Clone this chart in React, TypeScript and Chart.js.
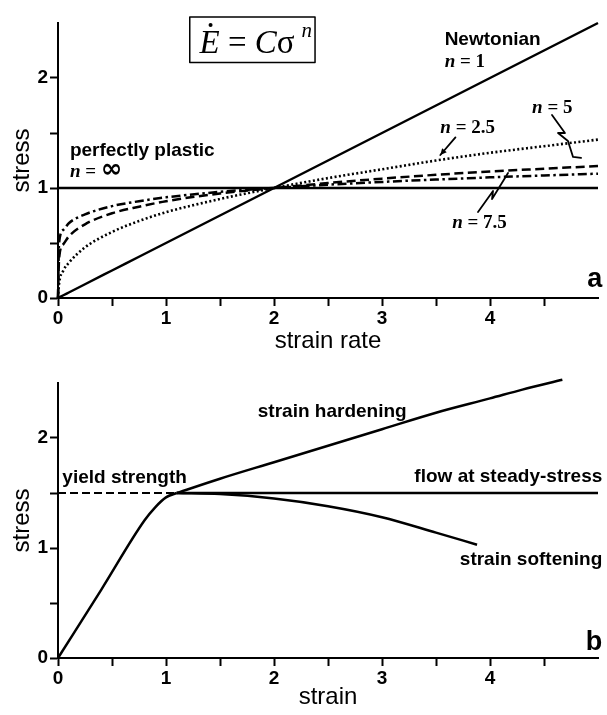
import { useEffect, useRef } from 'react';
import { Chart, registerables } from 'chart.js';

Chart.register(...registerables);

const SANS = '"Liberation Sans", Arial, Helvetica, sans-serif';
const SERIF = '"Liberation Serif", "Times New Roman", serif';

// ---- Panel a: stress vs strain rate for the flow law  Ė = Cσⁿ ----
const strainRate = [0, 0.01, 0.05, 0.1, 0.25, 0.5, 0.75, 1, 1.5, 2, 2.5, 3, 3.5, 4, 4.5, 5];
const stressNewtonian = [0, 0.005, 0.025, 0.05, 0.125, 0.25, 0.375, 0.5, 0.75, 1, 1.25, 1.5, 1.75, 2, 2.25, 2.5];
const stressN25 = [0, 0.13, 0.25, 0.32, 0.46, 0.6, 0.7, 0.78, 0.9, 1.0, 1.09, 1.17, 1.25, 1.32, 1.38, 1.44];
const stressN5 = [0, 0.36, 0.49, 0.56, 0.67, 0.77, 0.83, 0.88, 0.95, 1.0, 1.045, 1.085, 1.12, 1.15, 1.175, 1.2];
const stressN75 = [0, 0.5, 0.62, 0.68, 0.76, 0.835, 0.88, 0.915, 0.965, 1.0, 1.03, 1.055, 1.077, 1.097, 1.114, 1.13];
const plasticRate = [0, 5];
const plasticStress = [1, 1];

// ---- Panel b: stress vs strain ----
const elasticStrain = [0, 0.4, 0.8, 0.9, 1.0, 1.1];
const elasticStress = [0, 0.62, 1.25, 1.37, 1.46, 1.5];
const yieldStrain = [0, 1.1];
const yieldStress = [1.5, 1.5];
const flowStrain = [1.1, 5];
const flowStress = [1.5, 1.5];
const hardeningStrain = [1.1, 1.5, 2.0, 2.5, 3.0, 3.5, 4.0, 4.3, 4.67];
const hardeningStress = [1.5, 1.63, 1.78, 1.93, 2.08, 2.23, 2.36, 2.44, 2.53];
const softeningStrain = [1.1, 1.5, 2.0, 2.5, 3.0, 3.5, 3.88];
const softeningStress = [1.5, 1.49, 1.45, 1.38, 1.28, 1.14, 1.03];

// axis tick labels (minor ticks every 0.5 carry no label)
const xTickLabels = [0, 1, 2, 3, 4];
const yTickLabels = [0, 1, 2];

const WIDTH = 607;
const TOP_H = 360;
const BOTTOM_H = 355;
const PLOT_TOP = 23;
const PLOT_BOTTOM = 298;

type Run = { t: string; font: string };
type Label = { runs: Run[]; x: number; y: number; align?: 'left' | 'right' };
type Leader = { pts: [number, number][]; arrow?: boolean };

const boldSans = `bold 19px ${SANS}`;
const nItalic = `italic bold 19px ${SERIF}`;
const nUpright = `bold 19px ${SERIF}`;
const nLabel = (v: string): Run[] => [
  { t: 'n', font: nItalic },
  { t: ' = ', font: nUpright },
  { t: v, font: nUpright },
];

const panelALabels: Label[] = [
  { runs: [{ t: 'perfectly plastic', font: boldSans }], x: 0.11, y: 1.29 },
  { runs: [{ t: 'n', font: nItalic }, { t: ' = ', font: nUpright }, { t: '∞', font: `bold 26px "DejaVu Sans", ${SANS}` }], x: 0.11, y: 1.1 },
  { runs: [{ t: 'Newtonian', font: boldSans }], x: 3.58, y: 2.3 },
  { runs: nLabel('1'), x: 3.58, y: 2.1 },
  { runs: nLabel('2.5'), x: 3.54, y: 1.5 },
  { runs: nLabel('5'), x: 4.39, y: 1.68 },
  { runs: nLabel('7.5'), x: 3.65, y: 0.64 },
  { runs: [{ t: 'a', font: `bold 27px ${SANS}` }], x: 5.04, y: 0.1, align: 'right' },
];

const panelALeaders: Leader[] = [
  { pts: [[3.68, 1.46], [3.54, 1.3]], arrow: true },
  { pts: [[4.574, 1.664], [4.694, 1.5], [4.63, 1.5], [4.722, 1.427], [4.769, 1.282], [4.843, 1.273]] },
  { pts: [[3.889, 0.782], [4.028, 0.973], [4.019, 0.9], [4.167, 1.136]] },
];

const panelBLabels: Label[] = [
  { runs: [{ t: 'yield strength', font: boldSans }], x: 0.04, y: 1.59 },
  { runs: [{ t: 'strain hardening', font: boldSans }], x: 1.85, y: 2.19 },
  { runs: [{ t: 'flow at steady-stress', font: boldSans }], x: 5.04, y: 1.6, align: 'right' },
  { runs: [{ t: 'strain softening', font: boldSans }], x: 5.04, y: 0.845, align: 'right' },
  { runs: [{ t: 'b', font: `bold 27px ${SANS}` }], x: 5.04, y: 0.073, align: 'right' },
];

// formula box, in data units of panel a
const formulaBox = { x0: 1.22, x1: 2.38, y0: 2.14, y1: 2.555 };
const formulaText = { x: 1.31, y: 2.227 };

function drawRuns(ctx: CanvasRenderingContext2D, runs: Run[], px: number, py: number, align?: string) {
  let total = 0;
  runs.forEach((r) => {
    ctx.font = r.font;
    total += ctx.measureText(r.t).width;
  });
  let cx = align === 'right' ? px - total : px;
  runs.forEach((r) => {
    ctx.font = r.font;
    ctx.fillText(r.t, cx, py);
    cx += ctx.measureText(r.t).width;
  });
}

function drawFormula(chart: any, ctx: CanvasRenderingContext2D) {
  const { x, y } = chart.scales;
  const bx0 = x.getPixelForValue(formulaBox.x0);
  const bx1 = x.getPixelForValue(formulaBox.x1);
  const by0 = y.getPixelForValue(formulaBox.y1);
  const by1 = y.getPixelForValue(formulaBox.y0);
  ctx.lineWidth = 1.5;
  ctx.strokeRect(bx0, by0, bx1 - bx0, by1 - by0);

  let cx = x.getPixelForValue(formulaText.x);
  const base = y.getPixelForValue(formulaText.y);
  ctx.textAlign = 'left';
  ctx.textBaseline = 'alphabetic';
  ctx.font = `italic 33px ${SERIF}`;
  ctx.fillText('E', cx, base);
  const eW = ctx.measureText('E').width;
  ctx.beginPath();
  ctx.arc(cx + eW * 0.55, base - 28, 2, 0, Math.PI * 2);
  ctx.fill();
  cx += eW;
  ctx.font = `33px ${SERIF}`;
  ctx.fillText(' = ', cx, base);
  cx += ctx.measureText(' = ').width;
  ctx.font = `italic 33px ${SERIF}`;
  ctx.fillText('C', cx, base);
  cx += ctx.measureText('C').width;
  ctx.font = `33px ${SERIF}`;
  ctx.fillText('σ', cx, base);
  cx += ctx.measureText('σ').width + 7;
  ctx.font = `italic 21px ${SERIF}`;
  ctx.fillText('n', cx, base - 16);
}

function overlay(labels: Label[], leaders: Leader[], extra?: (chart: any, ctx: CanvasRenderingContext2D) => void) {
  return {
    id: 'overlay',
    afterDatasetsDraw(chart: any) {
      const { ctx } = chart;
      const { x, y } = chart.scales;
      ctx.save();
      ctx.fillStyle = '#000';
      ctx.strokeStyle = '#000';
      ctx.textAlign = 'left';
      ctx.textBaseline = 'alphabetic';
      labels.forEach((l) => drawRuns(ctx, l.runs, x.getPixelForValue(l.x), y.getPixelForValue(l.y), l.align));
      ctx.lineWidth = 1.8;
      ctx.lineJoin = 'round';
      ctx.lineCap = 'round';
      leaders.forEach((ld) => {
        const p = ld.pts.map(([a, b]) => [x.getPixelForValue(a), y.getPixelForValue(b)]);
        ctx.beginPath();
        p.forEach(([px, py], i) => (i === 0 ? ctx.moveTo(px, py) : ctx.lineTo(px, py)));
        ctx.stroke();
        if (ld.arrow) {
          const [ax, ay] = p[p.length - 1];
          const [bx, by] = p[p.length - 2];
          const ang = Math.atan2(ay - by, ax - bx);
          ctx.beginPath();
          ctx.moveTo(ax, ay);
          ctx.lineTo(ax - 7 * Math.cos(ang - 0.45), ay - 7 * Math.sin(ang - 0.45));
          ctx.lineTo(ax - 7 * Math.cos(ang + 0.45), ay - 7 * Math.sin(ang + 0.45));
          ctx.closePath();
          ctx.fill();
        }
      });
      if (extra) extra(chart, ctx);
      ctx.restore();
    },
  };
}

const pts = (xs: number[], ys: number[]) => xs.map((v, i) => ({ x: v, y: ys[i] }));
const series = (xs: number[], ys: number[], extra: Record<string, unknown> = {}) => ({
  data: pts(xs, ys),
  showLine: true,
  borderColor: '#000',
  borderWidth: 2.5,
  pointRadius: 0,
  fill: false,
  clip: false,
  cubicInterpolationMode: 'monotone',
  ...extra,
});

function axes(xTitle: string, canvasH: number, titlePad: number) {
  const tickFont = { family: SANS, size: 19, weight: 'bold' as const };
  const titleFont = { family: SANS, size: 24 };
  const hideAt = (hidden: number) => (c: any) =>
    c.tick && Math.abs(c.tick.value - hidden) < 1e-9 ? 'rgba(0,0,0,0)' : '#000';
  return {
    x: {
      type: 'linear',
      min: 0,
      max: 5,
      afterFit: (s: any) => {
        s.height = canvasH - PLOT_BOTTOM;
      },
      ticks: {
        stepSize: 0.5,
        autoSkip: false,
        maxRotation: 0,
        padding: 1,
        color: '#000',
        font: tickFont,
        callback: (v: number) => (xTickLabels.includes(v) ? String(v) : ''),
      },
      grid: { drawOnChartArea: false, tickLength: 8, tickWidth: 2, tickColor: hideAt(5) },
      border: { color: '#000', width: 2 },
      title: { display: true, text: xTitle, color: '#000', font: titleFont, padding: { top: 0, bottom: titlePad } },
    },
    y: {
      type: 'linear',
      min: 0,
      max: 2.5,
      afterFit: (s: any) => {
        s.width = 58;
      },
      ticks: {
        stepSize: 0.5,
        autoSkip: false,
        padding: 2,
        color: '#000',
        font: tickFont,
        callback: (v: number) => (yTickLabels.includes(v) ? String(v) : ''),
      },
      grid: { drawOnChartArea: false, tickLength: 8, tickWidth: 2, tickColor: hideAt(2.5) },
      border: { color: '#000', width: 2 },
      title: { display: true, text: 'stress', color: '#000', font: titleFont, padding: { top: 8, bottom: 0 } },
    },
  };
}

function baseOptions(xTitle: string, canvasH: number, titlePad: number) {
  return {
    responsive: false,
    animation: false,
    layout: { padding: { top: PLOT_TOP, right: 9, left: 0, bottom: 0 } },
    plugins: { legend: { display: false }, tooltip: { enabled: false }, title: { display: false } },
    events: [],
    scales: axes(xTitle, canvasH, titlePad),
  };
}

function configA(): any {
  return {
    type: 'scatter',
    data: {
      datasets: [
        series(plasticRate, plasticStress),
        series(strainRate, stressNewtonian),
        series(strainRate, stressN25, { borderDash: [2, 2.4], borderWidth: 2.6 }),
        series(strainRate, stressN5, { borderDash: [9, 4.5] }),
        series(strainRate, stressN75, { borderDash: [9, 3.5, 2.5, 3.5] }),
      ],
    },
    options: baseOptions('strain rate', TOP_H, 4),
    plugins: [overlay(panelALabels, panelALeaders, drawFormula)],
  };
}

function configB(): any {
  return {
    type: 'scatter',
    data: {
      datasets: [
        series(yieldStrain, yieldStress, { borderDash: [8, 4], borderWidth: 2.2 }),
        series(flowStrain, flowStress),
        series(elasticStrain, elasticStress),
        series(hardeningStrain, hardeningStress),
        series(softeningStrain, softeningStress),
      ],
    },
    options: baseOptions('strain', BOTTOM_H, 3),
    plugins: [overlay(panelBLabels, [])],
  };
}

function Panel({ height, make }: { height: number; make: () => any }) {
  const ref = useRef<HTMLCanvasElement>(null);
  useEffect(() => {
    const chart = new Chart(ref.current as HTMLCanvasElement, make());
    return () => chart.destroy();
  }, [make]);
  return <canvas ref={ref} width={WIDTH} height={height} style={{ display: 'block', width: WIDTH, height }} />;
}

export default function App() {
  return (
    <div style={{ position: 'absolute', left: 0, top: 0, width: WIDTH, height: TOP_H + BOTTOM_H, background: '#fff' }}>
      <Panel height={TOP_H} make={configA} />
      <Panel height={BOTTOM_H} make={configB} />
    </div>
  );
}
